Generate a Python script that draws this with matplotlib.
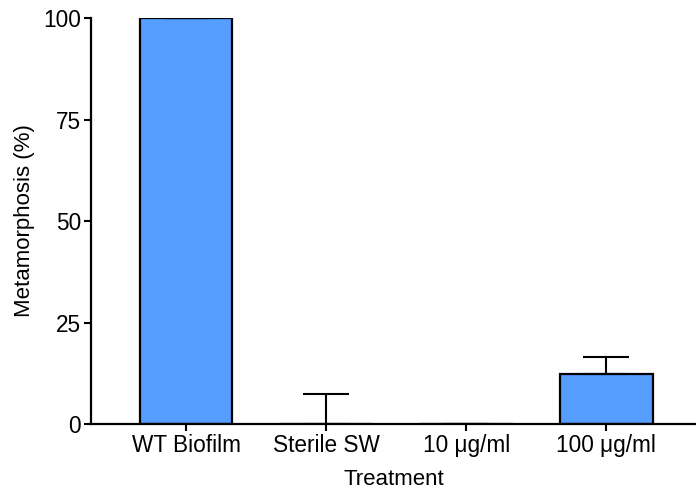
import matplotlib
matplotlib.use("Agg")
import matplotlib.pyplot as plt

categories = ["WT Biofilm", "Sterile SW", "10 \u03bcg/ml", "100 \u03bcg/ml"]
values = [100.0, 0.0, 0.0, 12.4]
err_upper = [0.0, 7.3, 0.0, 4.1]
yticks = [0, 25, 50, 75, 100]

plt.rcParams['font.family'] = ['Liberation Sans', 'DejaVu Sans']
plt.rcParams['font.size'] = 16

fig = plt.figure(figsize=(6.96, 4.95), dpi=100)
ax = fig.add_axes([0.1307, 0.1434, 0.8693, 0.8202])

x = list(range(len(categories)))
ax.bar(x, values, width=0.66, color="#559dff", edgecolor="black", linewidth=1.6, zorder=2)
ax.errorbar(x, values, yerr=[[0]*len(values), err_upper], fmt='none', ecolor='black',
            elinewidth=1.5, capsize=16.5, capthick=1.5, zorder=3)

ax.set_xlim(-0.68, 3.64)
ax.set_ylim(0, 100)
ax.set_yticks(yticks)
ax.set_xticks(x)
ax.set_xticklabels(categories)
ax.spines['top'].set_visible(False)
ax.spines['right'].set_visible(False)
ax.spines['left'].set_linewidth(1.6)
ax.spines['bottom'].set_linewidth(1.6)
ax.spines['left'].set_zorder(4)
ax.spines['bottom'].set_zorder(4)
ax.tick_params(axis='both', direction='out', length=5, width=1.5, labelsize=16.3, pad=2)
ax.set_xlabel("Treatment", fontsize=16, labelpad=9)
ax.set_ylabel("Metamorphosis (%)", fontsize=16, labelpad=6)

fig.savefig("out.png", dpi=100)
